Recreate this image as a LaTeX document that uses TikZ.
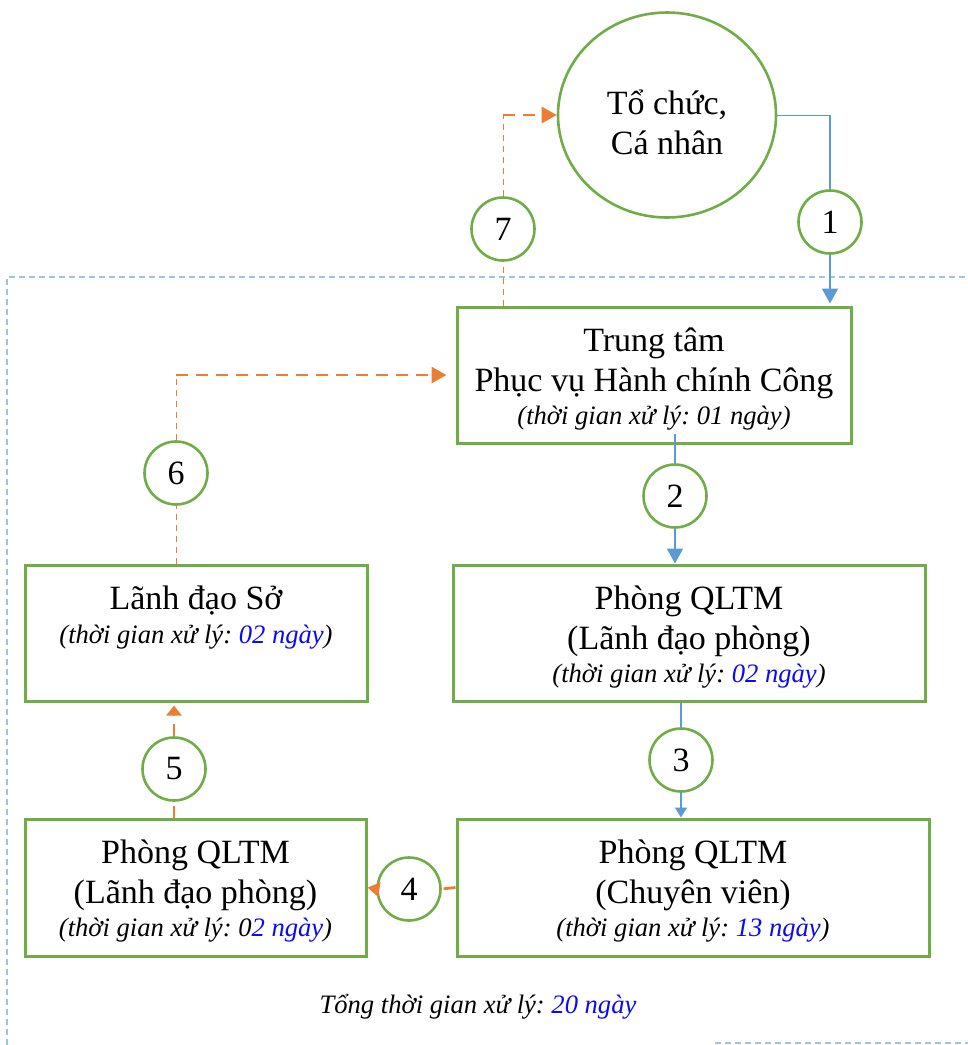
\documentclass[tikz,border=0pt]{standalone}
\usepackage{fontspec}
\setmainfont{Liberation Serif}
\usepackage{xcolor}
\usetikzlibrary{arrows.meta,shapes.geometric,positioning}
\frenchspacing

\definecolor{boxgreen}{HTML}{70AD47}
\definecolor{flowblue}{HTML}{5B9BD5}
\definecolor{floworange}{HTML}{ED7D31}
\definecolor{frameblue}{HTML}{9DC3E6}
\definecolor{dayblue}{HTML}{0A0AF5}

\newcommand{\bigtext}{\fontsize{17}{20}\selectfont}
\newcommand{\smalltext}{\fontsize{13.3}{16}\selectfont\itshape}
\newcommand{\proctime}[1]{{\smalltext(thời gian xử lý: #1)}}
\newcommand{\toprow}{\rule{0pt}{15.5pt}}

\begin{document}
\begin{tikzpicture}[x=0.5pt,y=-0.5pt,
  office/.style={draw=boxgreen, line width=1.5pt, align=center, font=\bigtext, inner sep=0pt},
  officetext/.style={align=center, font=\bigtext, inner sep=0pt},
  stepnum/.style={circle, draw=boxgreen, line width=1.3pt, minimum size=31.5pt, inner sep=0pt, font=\bigtext},
  blueflow/.style={draw=flowblue, line width=1pt},
  bluearrow/.style={blueflow, -{Triangle[length=7.5pt,width=8pt]}},
  orangethin/.style={draw=floworange, line width=0.5pt, dash pattern=on 3pt off 2.5pt},
  orangedash/.style={draw=floworange, line width=1.4pt, dash pattern=on 6pt off 4pt},
  orangearrow/.style={orangedash, -{Triangle[length=7.5pt,width=8pt]}},
  frame/.style={draw=frameblue, line width=0.6pt, dash pattern=on 3pt off 2pt},
]
\useasboundingbox (0,0) rectangle (968,1045);

% Frame round the office steps
\draw[frame] (7,1045) -- (7,277) -- (968,277);
\draw[frame] (715,1043) -- (968,1043);

% Offices
\node[ellipse, draw=boxgreen, line width=1.3pt, minimum width=109pt, minimum height=102.5pt]
  (org) at (667,115) {};                                                    % applicant
\node[officetext] (orgtext) at ([yshift=-2.25pt]org.center) {\toprow Tổ chức,\\Cá nhân};
\node[office, minimum width=197pt, minimum height=68pt]
  (hub) at (654,375) {\toprow Trung tâm\\Phục vụ Hành chính Công\\[-3.5pt]\proctime{01 ngày}}; % service centre
\node[office, minimum width=236pt, minimum height=68pt]
  (chief) at (689,633) {\toprow Phòng QLTM\\(Lãnh đạo phòng)\\[-3.5pt]\proctime{\textcolor{dayblue}{02 ngày}}};
\node[office, minimum width=236pt, minimum height=68.5pt]
  (staff) at (693,887.5) {\toprow Phòng QLTM\\(Chuyên viên)\\[-3.5pt]\proctime{\textcolor{dayblue}{13 ngày}}};
\node[office, minimum width=170.5pt, minimum height=68.5pt]
  (head2) at (195.5,887.5) {\toprow Phòng QLTM\\(Lãnh đạo phòng)\\[-3.5pt]\proctime{0\textcolor{dayblue}{2 ngày}}};
\node[office, minimum width=171pt, minimum height=68pt]
  (director) at (196,633) {};                                               % board of the department
\node[officetext, below=11pt of director.north]
  (directortext) {Lãnh đạo Sở\\[-3pt]\proctime{\textcolor{dayblue}{02 ngày}}};

% Step numbers
\node[stepnum] (n1) at (830,222) {1};
\node[stepnum] (n2) at (675,496) {2};
\node[stepnum] (n3) at (681,760) {3};
\node[stepnum] (n4) at (409,889) {4};
\node[stepnum] (n5) at (174,769) {5};
\node[stepnum] (n6) at (176,473) {6};
\node[stepnum] (n7) at (503,229) {7};

% Corners
\coordinate (c1) at (org.east -| n1);
\coordinate (c2) at ([yshift=5.5pt]hub.south -| n2);
\coordinate (c6) at (n6 |- hub.west);
\coordinate (c7) at (n7 |- org.west);

% Forward flow (blue)
\draw[blueflow, line width=0.5pt] (org.east) -- (c1);                      % out of the applicant
\draw[blueflow] (c1) -- (n1.north);
\draw[bluearrow, shorten >=1pt] (n1.south) -- (n1.south |- hub.north);    % step 1
\draw[blueflow] (c2) -- (n2.north);
\draw[bluearrow] (n2.south) -- (n2.south |- chief.north);                  % step 2
\draw[blueflow, line width=0.8pt] (n3.north |- chief.south) -- (n3.north);
\draw[blueflow, line width=0.8pt, -{Triangle[length=5pt,width=6pt]}]
  (n3.south) -- (n3.south |- staff.north);                                  % step 3

% Return flow (orange)
\draw[orangedash] (staff.west) -- (n4.east);
\draw[orangearrow, -{Triangle[length=6pt,width=7pt]}] (n4.west) -- (head2.east); % step 4
\draw[orangedash] (n5.south |- head2.north) -- (n5.south);
\draw[orangearrow, -{Triangle[length=5pt,width=7.5pt]}, shorten >=1.5pt]
  (n5.north) -- (n5.north |- director.south);                               % step 5
\draw[orangethin] (n6.south |- director.north) -- (n6.south);
\draw[orangethin] (n6.north) -- (c6);
\draw[orangearrow, shorten >=4.5pt] (c6) -- (hub.west);                     % step 6
\draw[orangethin] (n7.south |- hub.north) -- (n7.south);
\draw[orangethin] (n7.north) -- (c7);
\draw[orangearrow] (c7) -- (org.west);                                      % step 7

% Total
\node[officetext] (total) at (478,1007) {\smalltext Tổng thời gian xử lý: \textcolor{dayblue}{20 ngày}};

\end{tikzpicture}
\end{document}
